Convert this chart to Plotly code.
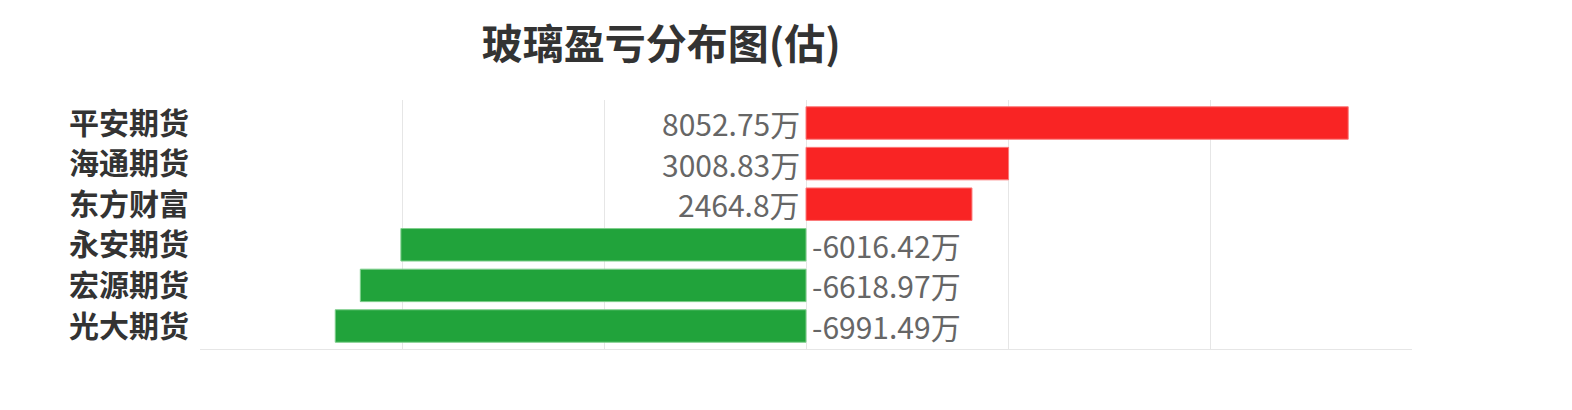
import plotly.graph_objects as go

categories = ["平安期货", "海通期货", "东方财富", "永安期货", "宏源期货", "光大期货"]
values = [8052.75, 3008.83, 2464.8, -6016.42, -6618.97, -6991.49]
labels = ["8052.75万", "3008.83万", "2464.8万", "-6016.42万", "-6618.97万", "-6991.49万"]
title_text = "玻璃盈亏分布图(估)"

FONT = "Noto Sans CJK SC"
colors = ["#f92424" if v >= 0 else "#21a33b" for v in values]
line_colors = ["#fb7a7a" if v >= 0 else "#7fcf8c" for v in values]

fig = go.Figure(go.Bar(
    x=values, y=categories, orientation="h",
    marker=dict(color=colors, line=dict(color=line_colors, width=1)),
    width=0.8, hoverinfo="skip",
))

annotations = []
for c, v, t in zip(categories, values, labels):
    annotations.append(dict(
        x=0, y=c, xref="x", yref="y", text=t, showarrow=False, borderpad=0,
        xanchor="right" if v >= 0 else "left", xshift=-5 if v >= 0 else 5,
        font=dict(family=FONT, size=30, color="#666666"),
    ))

fig.update_layout(
    width=1572, height=410,
    margin=dict(l=192, r=168, t=92, b=69),
    paper_bgcolor="white", plot_bgcolor="white",
    showlegend=False,
    title=dict(text="<b>" + title_text + "</b>", x=0.4155, xanchor="center", xref="container",
               y=0.91, yanchor="middle", yref="container",
               font=dict(family=FONT, size=41, color="#333333")),
    xaxis=dict(range=[-9000, 9000], tickvals=[-9000, -6000, -3000, 0, 3000, 6000, 9000],
               showticklabels=False, showgrid=True, gridcolor="#e6e6e6", gridwidth=1,
               zeroline=False, showline=True, linecolor="#e6e6e6", linewidth=1, fixedrange=True),
    yaxis=dict(autorange="reversed", showgrid=False, zeroline=False, ticks="", ticklabelstandoff=10,
               tickfont=dict(family=FONT, size=30, color="#333333", weight="bold"),
               showline=False, automargin=False),
    annotations=annotations,
    font=dict(family=FONT),
)

fig.write_html("out.html")
